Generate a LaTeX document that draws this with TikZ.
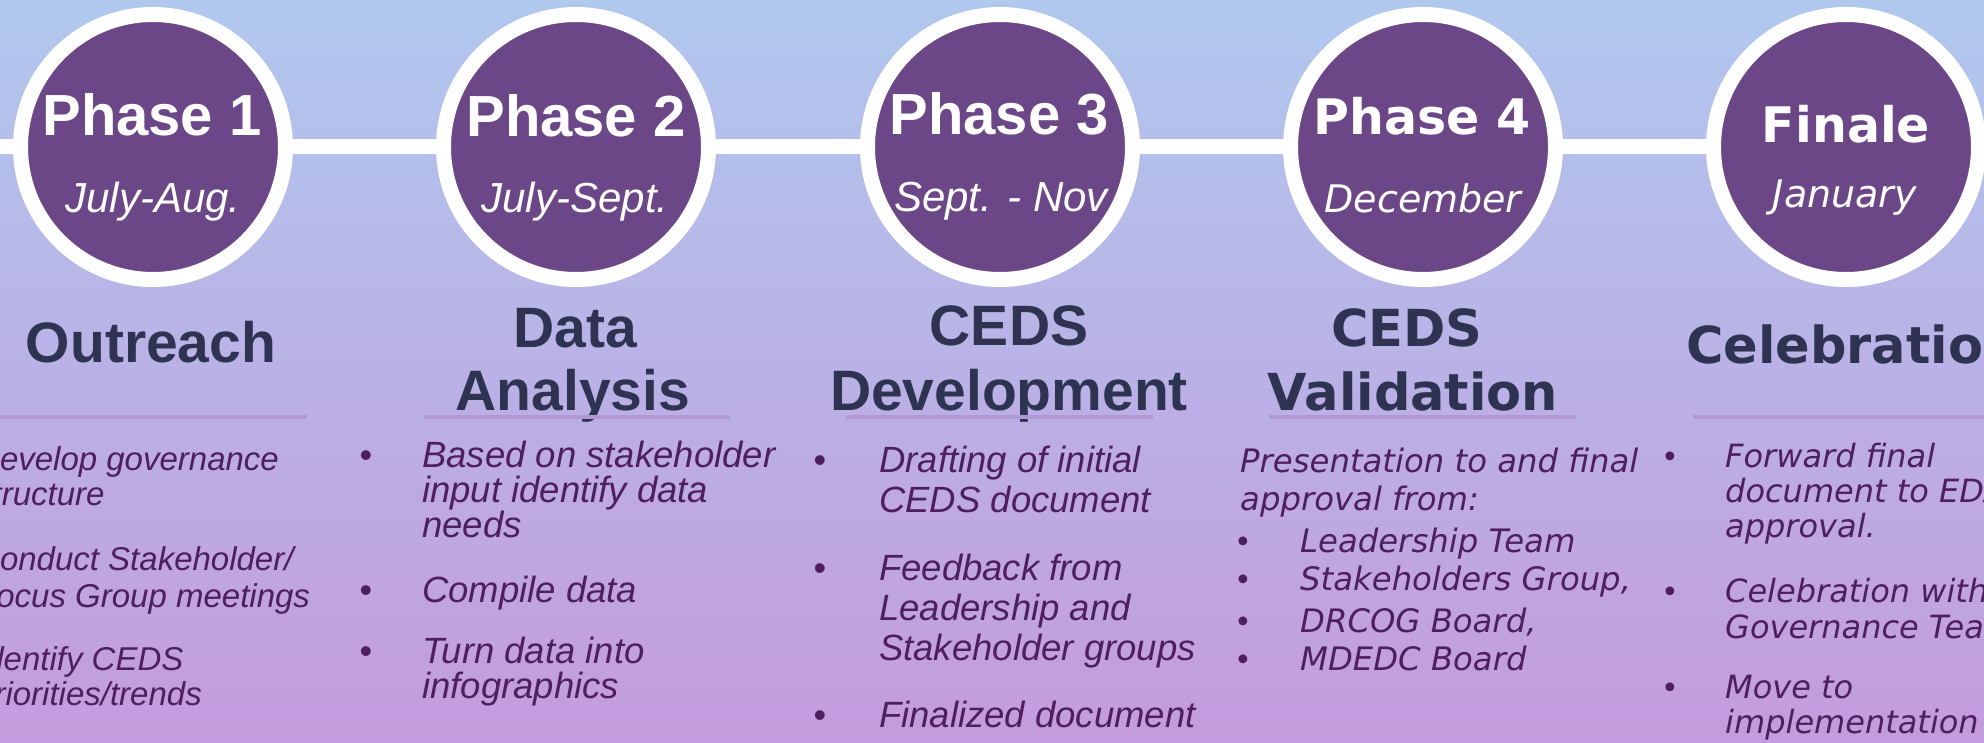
\documentclass[tikz,border=0pt]{standalone}
\usepackage{fontspec}
\setmainfont{Liberation Sans}
\newfontfamily\dvs{DejaVu Sans}
\definecolor{bgtop}{RGB}{176,200,238}
\definecolor{bgmid}{RGB}{185,180,229}
\definecolor{bgbot}{RGB}{196,155,222}
\definecolor{ringfill}{RGB}{107,71,135}
\definecolor{headc}{RGB}{45,51,80}
\definecolor{bodyc}{RGB}{78,30,96}
\definecolor{rulec}{RGB}{176,152,210}
\begin{document}
\begin{tikzpicture}[x=1pt,y=-1pt,
  phasecirc/.style={circle,fill=ringfill,draw=white,line width=15pt,minimum size=265pt,inner sep=0pt},
  link/.style={draw=white,line width=15pt},
  phtitle/.style={anchor=base,inner sep=0pt,text=white,font=\fontsize{58}{58}\selectfont\bfseries},
  phtitleb/.style={anchor=base,inner sep=0pt,text=white,font=\dvs\fontsize{49}{49}\selectfont\bfseries},
  phdate/.style={anchor=base,inner sep=0pt,text=white,font=\fontsize{42}{42}\selectfont\itshape},
  phdateb/.style={anchor=base,inner sep=0pt,text=white,font=\dvs\fontsize{38}{38}\selectfont\itshape},
  headtxt/.style={anchor=base,inner sep=0pt,text=headc,font=\fontsize{57}{57}\selectfont\bfseries},
  headtxtb/.style={anchor=base,inner sep=0pt,text=headc,font=\dvs\fontsize{51}{51}\selectfont\bfseries},
  rulel/.style={draw=rulec,line width=4pt},
  bodyA/.style={anchor=base west,inner sep=0pt,text=bodyc,font=\fontsize{33}{33}\selectfont\itshape},
  bodyB/.style={anchor=base west,inner sep=0pt,text=bodyc,font=\fontsize{36.5}{36.5}\selectfont\itshape},
  bodyC/.style={anchor=base west,inner sep=0pt,text=bodyc,font=\dvs\fontsize{32.3}{32.3}\selectfont\itshape},
  bul/.style={anchor=base,inner sep=0pt,text=bodyc,font=\fontsize{36}{36}\selectfont},
  bulb/.style={anchor=base,inner sep=0pt,text=bodyc,font=\dvs\fontsize{30}{30}\selectfont}
]
\useasboundingbox (0,0) rectangle (1984,743);
\clip (0,0) rectangle (1984,743);
\shade[top color=bgtop, middle color=bgmid, bottom color=bgbot] (0,0) rectangle (1984,743);

% circles
\node[phasecirc] (c1) at (153,147) {};
\node[phasecirc] (c2) at (576,147) {};
\node[phasecirc] (c3) at (1000,147) {};
\node[phasecirc] (c4) at (1423,147) {};
\node[phasecirc] (c5) at (1846,147) {};
\coordinate (lstart) at (-20,147);
\coordinate (rend) at (2010,147);
\draw[link] (lstart) -- (c1);
\draw[link] (c1) -- (c2);
\draw[link] (c2) -- (c3);
\draw[link] (c3) -- (c4);
\draw[link] (c4) -- (c5);
\draw[link] (c5) -- (rend);

% circle texts
\node[phtitle] (p1) at (152,136) {Phase 1};
\node[phdate] (d1) at (153,213) {July-Aug.};
\node[phtitle] (p2) at (576,137) {Phase 2};
\node[phdate] (d2) at (575,213) {July-Sept.};
\node[phtitle] (p3) at (999,135) {Phase 3};
\node[phdate] (d3) at (1001,212) {Sept. - Nov};
\node[phtitleb] (p4) at (1422,135) {Phase 4};
\node[phdateb] (d4) at (1423,213) {December};
\node[phtitleb] (p5) at (1846,143) {Finale};
\node[phdateb] (d5) at (1845,208) {January};

% headings
\node[headtxt] (h1) at (151,362) {Outreach};
\node[headtxt] (h2a) at (575,347) {Data};
\node[headtxt] (h2b) at (573,410) {Analysis};
\node[headtxt] (h3a) at (1009,345) {CEDS};
\node[headtxt] (h3b) at (1009,410) {Development};
\node[headtxtb] (h4a) at (1407,346) {CEDS};
\node[headtxtb] (h4b) at (1413,410) {Validation};
\node[headtxtb,anchor=base west] (h5) at (1686,363) {Celebration};

% rules
\coordinate (r1a) at (-1,417); \coordinate (r1b) at (307,417);
\coordinate (r2a) at (424,417); \coordinate (r2b) at (730,417);
\coordinate (r3a) at (846,417); \coordinate (r3b) at (1153,417);
\coordinate (r4a) at (1269,417); \coordinate (r4b) at (1576,417);
\coordinate (r5a) at (1693,417); \coordinate (r5b) at (2000,417);
\draw[rulel] (r1a) -- (r1b);
\draw[rulel] (r2a) -- (r2b);
\draw[rulel] (r3a) -- (r3b);
\draw[rulel] (r4a) -- (r4b);
\draw[rulel] (r5a) -- (r5b);

% column 1
\foreach \yy/\t [count=\i] in {470/{Develop governance}, 505/{structure}, 570/{Conduct Stakeholder/}, 607/{Focus Group meetings}, 670/{Identify CEDS}, 705/{priorities/trends}}
  {\node[bodyA] (a\i) at (-24,\yy) {\t};}

% column 2
\foreach \yy/\t [count=\i] in {467/{Based on stakeholder}, 502/{input identify data}, 537/{needs}, 602/{Compile data}, 663/{Turn data into}, 698/{infographics}}
  {\node[bodyB] (b\i) at (422,\yy) {\t};}
\foreach \yy [count=\i] in {467,602,663}
  {\node[bul] (bb\i) at (366,\yy) {•};}

% column 3
\foreach \yy/\t [count=\i] in {472/{Drafting of initial}, 512/{CEDS document}, 580/{Feedback from}, 620/{Leadership and}, 660/{Stakeholder groups}, 727/{Finalized document}}
  {\node[bodyB] (c3l\i) at (879,\yy) {\t};}
\foreach \yy [count=\i] in {472,580,727}
  {\node[bul] (cb\i) at (820,\yy) {•};}

% column 4
\node[bodyC] (v1) at (1240,472) {Presentation to and final};
\node[bodyC] (v2) at (1240,510) {approval from:};
\foreach \yy/\t [count=\i] in {552/{Leadership Team}, 590/{Stakeholders Group,}, 632/{DRCOG Board,}, 670/{MDEDC Board}}
  {\node[bodyC] (vl\i) at (1300,\yy) {\t};
   \node[bulb] (vb\i) at (1243,\yy) {•};}

% column 5
\foreach \yy/\t [count=\i] in {467/{Forward final}, 502/{document to EDA}, 537/{approval.}, 602/{Celebration with}, 638/{Governance Team}, 698/{Move to}, 733/{implementation}}
  {\node[bodyC,font=\dvs\fontsize{32}{32}\selectfont\itshape] (f\i) at (1725,\yy) {\t};}
\foreach \yy [count=\i] in {467,602,698}
  {\node[bulb] (fb\i) at (1670,\yy) {•};}
\end{tikzpicture}
\end{document}
